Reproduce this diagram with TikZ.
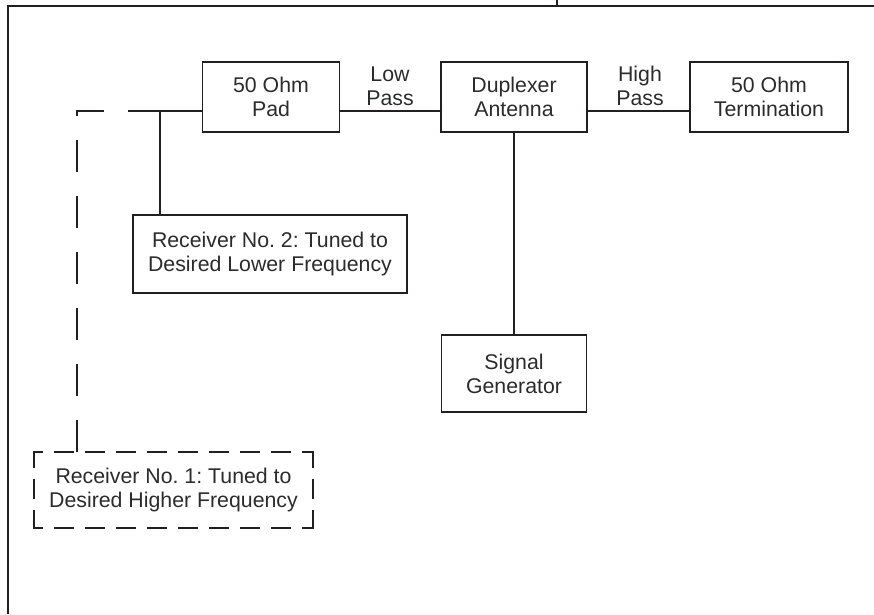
\documentclass[tikz,border=0pt]{standalone}
\usepackage{fontspec}
\setmainfont{Liberation Sans}
\definecolor{ink}{HTML}{231F20}
\definecolor{txt}{HTML}{2B2B2B}
\frenchspacing
\begin{document}
\begin{tikzpicture}[x=1pt,y=-1pt,
  line width=1.6pt, draw=ink,
  box/.style={draw=ink, rectangle, inner sep=0pt, align=center, text=txt,
    font=\fontsize{21.3}{24}\selectfont},
  lbl/.style={inner sep=0pt, align=center, text=txt, font=\fontsize{21.3}{24}\selectfont},
  dashline/.style={dash pattern=on 32pt off 24pt},
  dashh/.style={dash pattern=on 18pt off 13pt, dash phase=10pt},
  dashv/.style={dash pattern=on 18pt off 13pt, dash phase=3pt}]
\useasboundingbox (0,0) rectangle (874,614);
% frame
\draw[ink] (8,614) -- (8,6) -- (874,6);
\draw[ink] (557,0) -- (557,6);
% boxes
\node[box, minimum width=137pt, minimum height=70pt] (pad) at (271,97) {50 Ohm\\Pad};
\node[box, minimum width=146pt, minimum height=70pt] (dup) at (514,97) {Duplexer\\Antenna};
\node[box, minimum width=158pt, minimum height=70pt] (term) at (769,97) {50 Ohm\\Termination};
\node[box, minimum width=145pt, minimum height=77pt] (sg) at (514,373.5) {Signal\\Generator};
\node[box, minimum width=274pt, minimum height=78pt] (rx2) at (270,254) {Receiver No. 2: Tuned to\\Desired Lower Frequency};
\node[box, draw=none, minimum width=277pt, minimum height=74pt] (rx1) at (173.5,490) {Receiver No. 1: Tuned to\\Desired Higher Frequency};
% dashed border of receiver 1
\draw[ink, dashh, line cap=rect] (rx1.north west) -- (rx1.north east);
\draw[ink, dashh, line cap=rect] (rx1.south west) -- (rx1.south east);
\draw[ink, dashv, line cap=rect] (rx1.north west) -- (rx1.south west);
\draw[ink, dashv, line cap=rect] (rx1.north east) -- (rx1.south east);
% labels
\node[lbl] (lp) at (390,86) {Low\\Pass};
\node[lbl] (hp) at (640,86) {High\\Pass};
% connectors
\draw[ink] ([yshift=-14pt]pad.east) -- ([yshift=-14pt]dup.west);
\draw[ink] ([yshift=-14pt]dup.east) -- ([yshift=-14pt]term.west);
\draw[ink] (dup.south) -- (sg.north);
\coordinate (j) at (160,111);
\coordinate (c1) at (77,111);
\draw[ink] ([yshift=-14pt]pad.west) -- (j) -- (j |- rx2.north);
\draw[ink, dashline] (j) -- (c1) -- (c1 |- rx1.north);
\end{tikzpicture}
\end{document}
